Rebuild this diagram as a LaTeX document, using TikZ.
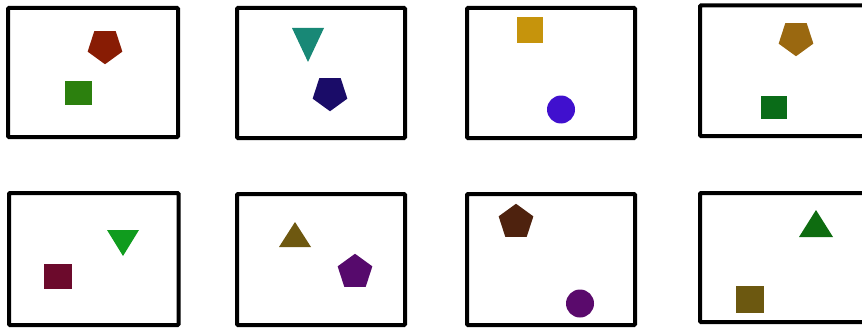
\documentclass[tikz,border=0pt]{standalone}
\usetikzlibrary{shapes.geometric}
\begin{document}
\begin{tikzpicture}[x=1pt,y=-1pt,
  frame/.style={draw=black,line width=4pt,rounded corners=1pt},
  pentdown/.style={regular polygon,regular polygon sides=5,shape border rotate=180,minimum size=36.5pt,inner sep=0pt,draw=none},
  pentup/.style={regular polygon,regular polygon sides=5,minimum size=36.5pt,inner sep=0pt,draw=none},
  dot/.style={circle,minimum size=28pt,inner sep=0pt,draw=none}]
\definecolor{cA}{RGB}{136,28,4}
\definecolor{cB}{RGB}{44,128,14}
\definecolor{cC}{RGB}{24,136,118}
\definecolor{cD}{RGB}{26,12,104}
\definecolor{cE}{RGB}{198,148,12}
\definecolor{cF}{RGB}{64,16,206}
\definecolor{cG}{RGB}{154,104,16}
\definecolor{cH}{RGB}{10,108,24}
\definecolor{cI}{RGB}{16,156,30}
\definecolor{cJ}{RGB}{108,10,44}
\definecolor{cK}{RGB}{110,88,16}
\definecolor{cL}{RGB}{86,10,108}
\definecolor{cM}{RGB}{78,34,14}
\definecolor{cN}{RGB}{90,10,108}
\definecolor{cO}{RGB}{14,108,16}
\definecolor{cP}{RGB}{108,88,16}
\useasboundingbox (0,0) rectangle (862,329);
\clip (0,0) rectangle (862,329);
% frames
\draw[frame] (8,8) rectangle (178,137);
\draw[frame] (237,8) rectangle (405,138);
\draw[frame] (467,8) rectangle (635,138);
\draw[frame] (700,5.5) rectangle (890,136);
\draw[frame] (9,193) rectangle (178.5,325);
\draw[frame] (237,194) rectangle (405,325);
\draw[frame] (467,194) rectangle (635,325);
\draw[frame] (700,193) rectangle (890,322);
% row 1
\node[pentdown,fill=cA] (p1) at (105,46) {};
\fill[cB] (65,81) rectangle (92,105);
\fill[cC] (292,28) -- (324,28) -- (308,62) -- cycle;
\node[pentdown,fill=cD] (p2) at (330,93) {};
\fill[cE] (517,17) rectangle (543,43);
\node[dot,fill=cF] (c1) at (561,109.5) {};
\node[pentdown,fill=cG] (p3) at (796,38) {};
\fill[cH] (761,96) rectangle (787,119);
% row 2
\fill[cI] (107,230) -- (139,230) -- (123,256) -- cycle;
\fill[cJ] (44,264) rectangle (72,289);
\fill[cK] (279,247) -- (311,247) -- (295,222) -- cycle;
\node[pentup,fill=cL] (p4) at (355,272) {};
\node[pentup,fill=cM] (p5) at (516,222) {};
\node[dot,fill=cN] (c2) at (580,303.5) {};
\fill[cO] (799,237) -- (833,237) -- (816,210) -- cycle;
\fill[cP] (736,286) rectangle (764,313);
\end{tikzpicture}
\end{document}
